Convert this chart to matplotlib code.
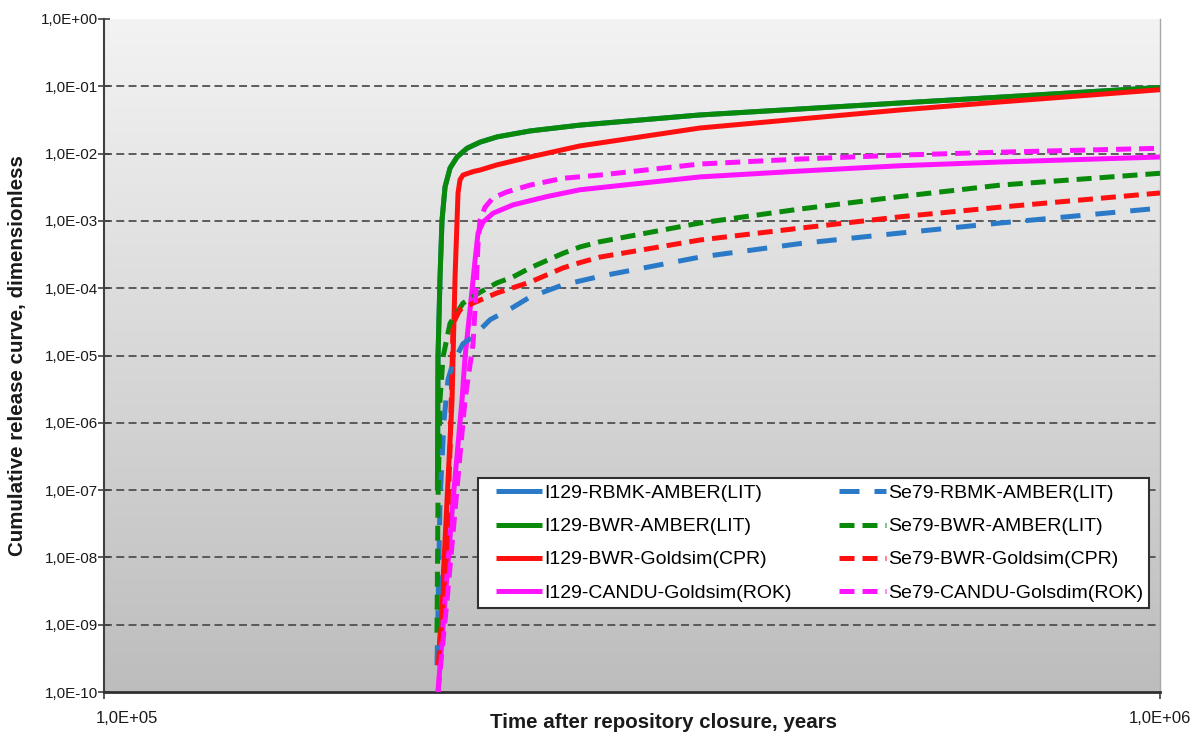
import matplotlib
matplotlib.use("Agg")
import matplotlib.pyplot as plt
import numpy as np
from matplotlib.colors import LinearSegmentedColormap
from matplotlib.transforms import ScaledTranslation
from matplotlib.legend_handler import HandlerLine2D
from matplotlib.lines import Line2D

plt.rcParams["font.family"] = ["Liberation Sans", "DejaVu Sans"]

# ---- data: time after closure (years) and cumulative release (dimensionless) ----
t_i129_bwr_amber = [2.069e5, 2.0715e5, 2.0807e5, 2.0898e5, 2.1036e5, 2.1267e5, 2.1594e5,
                    2.2069e5, 2.2704e5, 2.356e5, 2.5317e5, 2.823e5, 3.6667e5, 4.5605e5,
                    5.6744e5, 7.0557e5, 1.0e6]
v_i129_bwr_amber = [1.0e-7, 9.5e-6, 1.47e-4, 1.03e-3, 3.2e-3, 6.1e-3, 8.9e-3,
                    1.2e-2, 1.48e-2, 1.77e-2, 2.17e-2, 2.65e-2, 3.75e-2, 4.6e-2,
                    5.65e-2, 6.9e-2, 9.6e-2]

# RBMK iodine curve coincides with the BWR AMBER curve
t_i129_rbmk_amber = list(t_i129_bwr_amber)
v_i129_rbmk_amber = list(v_i129_bwr_amber)

t_i129_bwr_goldsim = [2.073e5, 2.0898e5, 2.1128e5, 2.136e5, 2.1406e5, 2.15e5, 2.164e5,
                      2.1735e5, 2.1878e5, 2.236e5, 2.2704e5, 2.356e5, 2.5317e5, 2.823e5,
                      3.6667e5, 4.5605e5, 5.6744e5, 7.0557e5, 1.0e6]
v_i129_bwr_goldsim = [2.5e-10, 2.3e-9, 7.1e-8, 2.2e-6, 9.5e-6, 1.47e-4, 2.6e-3,
                      4.1e-3, 4.8e-3, 5.4e-3, 5.7e-3, 6.8e-3, 8.9e-3, 1.3e-2,
                      2.4e-2, 3.27e-2, 4.45e-2, 5.85e-2, 8.9e-2]

t_i129_candu_goldsim = [2.0715e5, 2.1036e5, 2.1406e5, 2.183e5, 2.1973e5, 2.2214e5, 2.2458e5,
                        2.2606e5, 2.2853e5, 2.3357e5, 2.4398e5, 2.6274e5, 2.823e5, 3.6667e5,
                        4.5605e5, 5.6744e5, 7.0557e5, 1.0e6]
v_i129_candu_goldsim = [1.0e-10, 2.3e-9, 7.1e-8, 2.2e-6, 9.5e-6, 4.8e-5, 2.6e-4,
                        6.6e-4, 9.6e-4, 1.3e-3, 1.73e-3, 2.3e-3, 2.9e-3, 4.5e-3,
                        5.5e-3, 6.6e-3, 7.5e-3, 8.9e-3]

t_se79_rbmk_amber = [2.067e5, 2.0807e5, 2.099e5, 2.1174e5, 2.1406e5, 2.1878e5, 2.236e5,
                     2.3205e5, 2.4398e5, 2.5317e5, 2.7206e5, 2.9488e5, 3.6667e5, 4.5605e5,
                     5.6744e5, 7.0557e5, 9.784e5]
v_se79_rbmk_amber = [2.5e-10, 7.1e-8, 1.1e-6, 4.4e-6, 7.8e-6, 1.5e-5, 1.9e-5,
                     3.4e-5, 5.2e-5, 7.4e-5, 1.12e-4, 1.5e-4, 2.9e-4, 4.6e-4,
                     6.6e-4, 9.3e-4, 1.5e-3]

t_se79_bwr_amber = [2.067e5, 2.0715e5, 2.0807e5, 2.0944e5, 2.1267e5, 2.1878e5, 2.2704e5,
                    2.356e5, 2.4398e5, 2.5317e5, 2.7206e5, 2.823e5, 2.9488e5, 3.6667e5,
                    4.5605e5, 5.6744e5, 7.0557e5, 1.0e6]
v_se79_bwr_amber = [7.6e-10, 7.1e-8, 2.2e-6, 9.5e-6, 3.0e-5, 6.0e-5, 8.7e-5,
                    1.2e-4, 1.47e-4, 2.0e-4, 3.3e-4, 4.1e-4, 4.9e-4, 9.3e-4,
                    1.5e-3, 2.3e-3, 3.4e-3, 5.1e-3]

t_se79_bwr_goldsim = [2.073e5, 2.1082e5, 2.1267e5, 2.136e5, 2.1406e5, 2.1735e5, 2.236e5,
                      2.356e5, 2.5317e5, 2.7206e5, 2.823e5, 2.9488e5, 3.6667e5, 4.5605e5,
                      5.6744e5, 7.0557e5, 1.0e6]
v_se79_bwr_goldsim = [2.5e-10, 9.1e-9, 4.0e-7, 6.8e-6, 3.0e-5, 4.8e-5, 6.0e-5,
                      8.5e-5, 1.23e-4, 2.0e-4, 2.4e-4, 2.9e-4, 5.2e-4, 7.8e-4,
                      1.15e-3, 1.6e-3, 2.6e-3]

t_se79_candu_goldsim = [2.0715e5, 2.1128e5, 2.1544e5, 2.1973e5, 2.236e5, 2.2507e5, 2.2606e5,
                        2.2704e5, 2.2953e5, 2.3357e5, 2.4081e5, 2.5317e5, 2.7206e5, 2.9488e5,
                        3.6667e5, 4.5605e5, 5.6744e5, 7.0557e5, 1.0e6]
v_se79_candu_goldsim = [1.0e-10, 2.3e-9, 7.1e-8, 2.2e-6, 1.5e-5, 9.4e-5, 4.7e-4,
                        1.03e-3, 1.6e-3, 2.2e-3, 2.7e-3, 3.4e-3, 4.3e-3, 4.8e-3,
                        7.0e-3, 8.3e-3, 9.5e-3, 1.05e-2, 1.2e-2]

y_tick_values = [10.0 ** -k for k in range(0, 11)]
y_tick_labels = ["1,0E{:+03d}".format(-k) for k in range(0, 11)]
x_tick_values = [1e5, 1e6]
x_tick_labels = ["1,0E+05", "1,0E+06"]

BLUE = "#2a7ac8"
GREEN = "#0a8a0a"
RED = "#ff1010"
MAGENTA = "#ff14ff"

series = [
    (t_i129_rbmk_amber, v_i129_rbmk_amber, "I129-RBMK-AMBER(LIT)", BLUE, "-"),
    (t_i129_bwr_amber, v_i129_bwr_amber, "I129-BWR-AMBER(LIT)", GREEN, "-"),
    (t_i129_bwr_goldsim, v_i129_bwr_goldsim, "I129-BWR-Goldsim(CPR)", RED, "-"),
    (t_i129_candu_goldsim, v_i129_candu_goldsim, "I129-CANDU-Goldsim(ROK)", MAGENTA, "-"),
    (t_se79_rbmk_amber, v_se79_rbmk_amber, "Se79-RBMK-AMBER(LIT)", BLUE, (0, (4.0, 3.0))),
    (t_se79_bwr_amber, v_se79_bwr_amber, "Se79-BWR-AMBER(LIT)", GREEN, (0, (3.0, 1.6))),
    (t_se79_bwr_goldsim, v_se79_bwr_goldsim, "Se79-BWR-Goldsim(CPR)", RED, (0, (3.0, 1.6))),
    (t_se79_candu_goldsim, v_se79_candu_goldsim, "Se79-CANDU-Golsdim(ROK)", MAGENTA, (0, (3.0, 1.6))),
]


class LeadGapLineHandler(HandlerLine2D):
    """Legend line sample that leaves a small gap before the stroke."""

    def get_xdata(self, legend, xdescent, ydescent, width, height, fontsize):
        lead = 0.2 * width
        xdata = np.array([-xdescent + lead, -xdescent + width])
        return xdata, xdata


W, H = 1202, 740
rect = [104 / W, 1 - 692 / H, 1056 / W, 673 / H]
fig = plt.figure(figsize=(W / 100, H / 100), dpi=100)
fig.patch.set_facecolor("white")

# gradient plot-area fill
bg = fig.add_axes(rect, zorder=0)
grad = np.linspace(0, 1, 256).reshape(-1, 1)
cmap = LinearSegmentedColormap.from_list("plotfill", ["#f3f3f3", "#bdbdbd"])
bg.imshow(grad, cmap=cmap, aspect="auto", extent=[0, 1, 0, 1], origin="upper")
bg.set_axis_off()

ax = fig.add_axes(rect, zorder=1)
ax.patch.set_alpha(0)
ax.set_xscale("log")
ax.set_yscale("log")
ax.set_xlim(1e5, 1e6)
ax.set_ylim(1e-10, 1)

for k in range(1, 10):
    ax.axhline(10.0 ** -k, color="#505050", lw=1.3, ls=(0, (4.4, 2.4)), zorder=1)

handles = []
for t, v, name, col, ls in series:
    (ln,) = ax.plot(t, v, color=col, lw=3.6, ls=ls, label=name, zorder=3,
                    solid_capstyle="butt", dash_capstyle="butt",
                    solid_joinstyle="round")
    handles.append(ln)

ax.set_yticks(y_tick_values)
ax.set_yticklabels(y_tick_labels)
ax.set_xticks(x_tick_values)
ax.set_xticklabels(x_tick_labels)
ax.minorticks_off()
ax.tick_params(axis="y", direction="inout", length=8, width=1.2, color="#404040",
               labelsize=11, labelcolor="#1a1a1a", pad=0)
ax.tick_params(axis="x", direction="out", length=5, width=1.2, color="#404040",
               labelsize=12, labelcolor="#1a1a1a", pad=9)
xl = ax.get_xticklabels()
xl[0].set_transform(xl[0].get_transform() + ScaledTranslation(0.23, 0, fig.dpi_scale_trans))

ax.spines["top"].set_visible(False)
ax.spines["right"].set_color("#a8a8a8")
ax.spines["right"].set_linewidth(1.0)
ax.spines["left"].set_color("#404040")
ax.spines["left"].set_linewidth(1.5)
ax.spines["bottom"].set_color("#303030")
ax.spines["bottom"].set_linewidth(2.0)

leg = ax.legend(handles=handles, ncol=2, loc="lower left",
                bbox_to_anchor=(0.354, 0.125, 0.636, 0.196), mode="expand",
                fontsize=14, frameon=True, fancybox=False, framealpha=1,
                edgecolor="#303030", handlelength=3.0, handletextpad=0.1,
                borderpad=0.32, labelspacing=0.8, borderaxespad=0,
                handler_map={Line2D: LeadGapLineHandler()})
leg.get_frame().set_linewidth(1.5)
leg.set_zorder(5)

fig.text(664 / W, 1 - 722 / H, "Time after repository closure, years",
         ha="center", va="center", fontsize=14.8, fontweight="bold", color="#1a1a1a")
fig.text(18 / W, 1 - 356 / H, "Cumulative release curve, dimensionless",
         ha="center", va="center", rotation=90, fontsize=14.8, fontweight="bold",
         color="#1a1a1a")

fig.savefig("out.png", dpi=100, facecolor="white")
